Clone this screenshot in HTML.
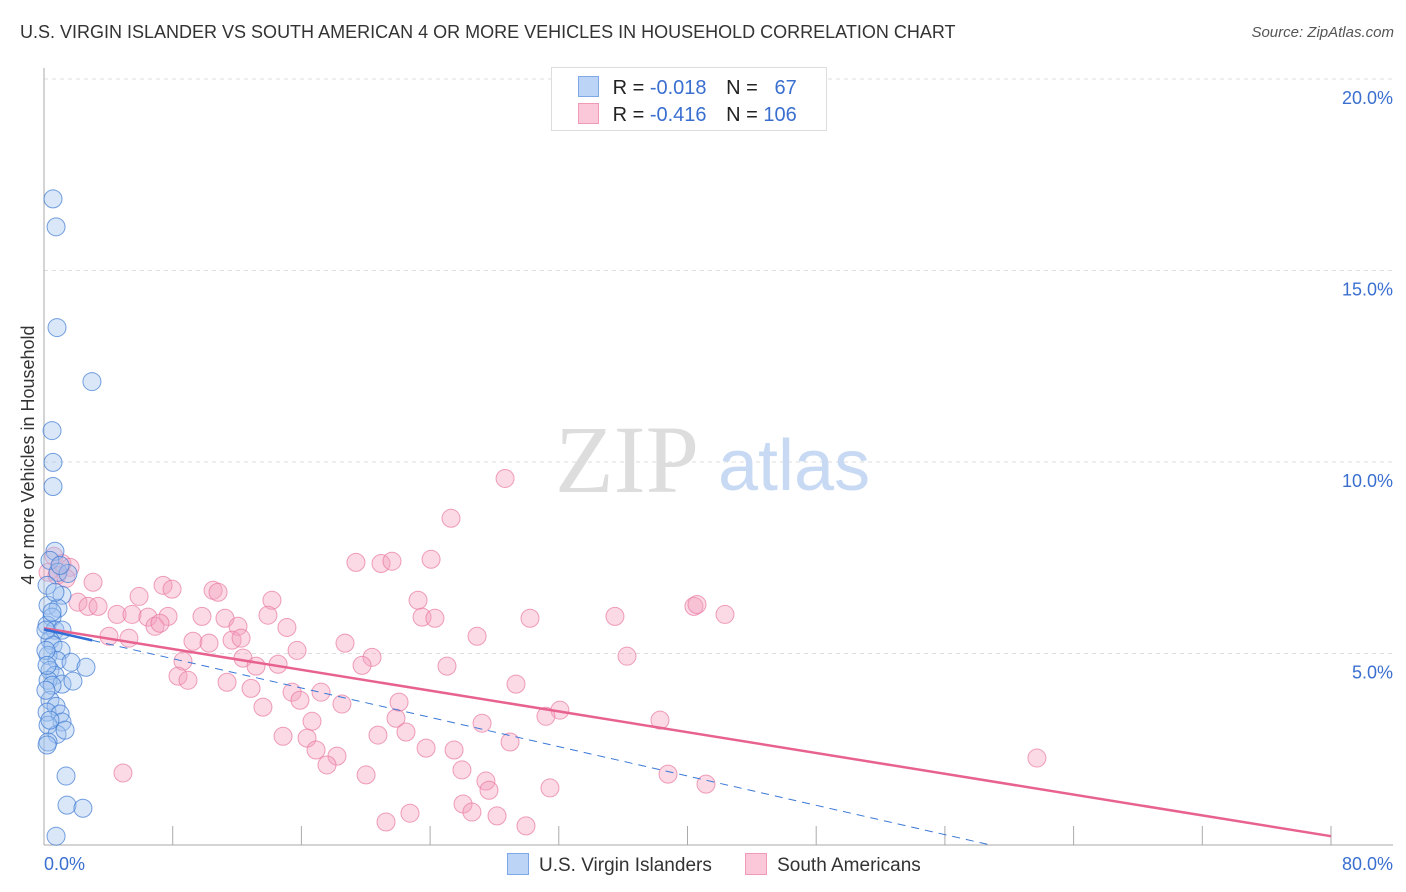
<!DOCTYPE html>
<html><head><meta charset="utf-8">
<style>
body{margin:0;background:#fff;font-family:"Liberation Sans",sans-serif;}
#wrap{position:relative;width:1406px;height:892px;overflow:hidden;}
.t{position:absolute;white-space:nowrap;}
</style></head>
<body>
<div id="wrap">
<div class="t" style="left:20px;top:22px;font-size:18px;color:#333;">U.S. VIRGIN ISLANDER VS SOUTH AMERICAN 4 OR MORE VEHICLES IN HOUSEHOLD CORRELATION CHART</div>
<div class="t" style="right:12px;top:24px;font-size:15px;color:#555;font-style:italic;">Source: ZipAtlas.com</div>
<svg id="svg" width="1406" height="892" style="position:absolute;left:0;top:0;"></svg>
</div>
<script>
const xTicks=[0,8,16,24,32,40,48,56,64,72,80];
const yTicks=[5,10,15,20];
const yTickLabels=["5.0%","10.0%","15.0%","20.0%"];
const blueX=[0.56,0.75,0.81,2.98,0.50,0.56,0.56,0.68,0.37,0.87,1.49,0.19,1.12,0.25,0.87,0.50,0.19,0.68,1.12,0.37,0.56,1.06,0.25,0.81,1.68,2.61,0.37,0.68,0.25,1.12,1.80,0.50,0.37,0.75,0.19,1.0,1.12,0.25,0.81,1.31,0.25,0.19,1.37,1.43,2.42,0.75,0.12,0.12,0.12,0.37,0.68,1.0,0.19,0.5];
const blueY=[16.87,16.14,13.51,12.10,10.82,9.99,9.36,7.67,7.43,7.12,7.09,6.78,6.52,6.26,6.18,5.95,5.74,5.61,5.61,5.35,5.22,5.08,4.95,4.82,4.77,4.64,4.56,4.43,4.30,4.20,4.28,4.17,3.78,3.62,3.47,3.42,3.21,3.13,2.89,3.0,2.69,2.61,1.80,1.04,0.96,0.23,5.61,5.08,4.04,3.26,6.6,7.3,4.69,6.08];
const pinkX=[28.66,25.30,19.39,20.95,21.63,24.06,0.62,1.12,1.62,0.25,0.81,1.37,3.05,7.40,7.96,10.51,10.82,5.91,2.11,2.74,3.36,14.17,23.25,40.40,40.59,42.33,35.49,23.50,24.30,30.21,4.54,5.47,6.46,7.71,9.82,11.25,12.06,13.92,15.10,6.90,7.21,4.04,5.28,9.26,10.26,11.69,12.25,18.71,26.92,15.73,20.39,8.64,12.37,13.18,14.55,19.77,25.05,36.24,8.33,8.95,11.38,12.87,15.42,17.22,29.34,13.61,15.91,18.52,22.07,32.07,31.20,21.88,16.66,27.23,38.29,14.86,16.35,20.76,22.50,28.97,23.75,25.49,16.91,18.21,17.59,25.98,20.02,61.72,38.79,4.91,27.47,27.66,41.15,31.45,26.05,26.60,22.75,28.16,21.26,29.96];
const pinkY=[9.57,8.53,7.38,7.35,7.41,7.46,7.54,7.35,7.25,7.12,7.04,6.96,6.86,6.78,6.68,6.65,6.60,6.49,6.34,6.23,6.23,6.39,6.39,6.23,6.28,6.02,5.97,5.95,5.92,5.92,6.02,6.02,5.95,5.97,5.97,5.92,5.71,6.0,5.68,5.71,5.79,5.45,5.40,5.32,5.27,5.35,5.40,5.27,5.45,5.08,4.90,4.80,4.88,4.67,4.72,4.69,4.67,4.93,4.41,4.30,4.25,4.09,3.99,3.99,4.20,3.60,3.78,3.68,3.73,3.52,3.36,3.31,3.23,3.18,3.26,2.84,2.79,2.87,2.95,2.69,2.53,2.48,2.48,2.32,2.09,1.96,1.83,2.27,1.85,1.88,1.67,1.43,1.59,1.49,1.07,0.86,0.83,0.76,0.60,0.50];
const pinkTrend=[5.66,0.23];
const blueTrend=[5.63,-0.0957];
const blueSolidEnd=3;

const L=44,R=1331,B=845,T=79;
const xs=v=>L+(v/80)*(R-L);
const ys=v=>B-(v/20)*(B-T);
const svg=document.getElementById('svg');
const NS='http://www.w3.org/2000/svg';
function mk(tag,attrs,parent){const e=document.createElementNS(NS,tag);for(const k in attrs)e.setAttribute(k,attrs[k]);(parent||svg).appendChild(e);return e;}

// gridlines
yTicks.forEach((v,i)=>{
 const g=mk('line',{x1:L,x2:1393,y1:ys(v),y2:ys(v),stroke:'#ddd','stroke-dasharray':'4,4'});
 
 
 const t=mk('text',{x:1393,y:ys(v)+25,'text-anchor':'end','font-size':'18',fill:'#3a6fd0','font-family':'Liberation Sans, sans-serif'});
 t.textContent=yTickLabels[i];
 
 
});
// axes
const ya=mk('line',{x1:L,x2:L,y1:68,y2:B,stroke:'#aaa'});


const xa=mk('line',{x1:L,x2:1393,y1:B,y2:B,stroke:'#aaa'});


xTicks.forEach(v=>{
 const tk=mk('line',{x1:xs(v),x2:xs(v),y1:826,y2:B,stroke:'#aaa'});
 
 
});
const xl0=mk('text',{x:44,y:870,'font-size':'18',fill:'#3a6fd0','font-family':'Liberation Sans, sans-serif'});xl0.textContent='0.0%';


const xl1=mk('text',{x:1393,y:870,'text-anchor':'end','font-size':'18',fill:'#3a6fd0','font-family':'Liberation Sans, sans-serif'});xl1.textContent='80.0%';


const yt=mk('text',{x:0,y:0,transform:'translate(34,455) rotate(-90)','text-anchor':'middle','font-size':'18',fill:'#333','font-family':'Liberation Sans, sans-serif'});yt.textContent='4 or more Vehicles in Household';


// watermark
const wm=mk('text',{x:555,y:492,'font-size':'96','font-family':'Liberation Serif, serif',fill:'#ddd'});wm.textContent='ZIP';


const wm2=mk('text',{x:718,y:490,'font-size':'72','font-family':'Liberation Sans, sans-serif',fill:'#c8daf3'});wm2.textContent='atlas';



// points
pinkX.forEach((x,i)=>{
 const c=mk('circle',{cx:xs(x),cy:ys(pinkY[i]),r:9,fill:'rgba(246,160,190,0.4)',stroke:'rgba(232,120,160,0.7)','stroke-width':1});
 
 
});
blueX.forEach((x,i)=>{
 const c=mk('circle',{cx:xs(x),cy:ys(blueY[i]),r:9,fill:'rgba(160,196,240,0.4)',stroke:'rgba(60,120,210,0.7)','stroke-width':1});
 
 
});
// trends
const pt=mk('line',{x1:xs(0),y1:ys(pinkTrend[0]),x2:xs(80),y2:ys(pinkTrend[1]),stroke:'#e8628f','stroke-width':2.5});


const bz=-blueTrend[0]/blueTrend[1];
const bd=mk('line',{x1:xs(blueSolidEnd),y1:ys(blueTrend[0]+blueTrend[1]*blueSolidEnd),x2:xs(bz),y2:ys(0),stroke:'#3a78d6','stroke-width':1,'stroke-dasharray':'8,6'});


const bs=mk('line',{x1:xs(0),y1:ys(blueTrend[0]),x2:xs(blueSolidEnd),y2:ys(blueTrend[0]+blueTrend[1]*blueSolidEnd),stroke:'#2f6fd6','stroke-width':2.5});


</script>
<div class="t" style="left:551px;top:67px;width:274px;height:62px;border:1px solid #ddd;background:#fff;font-size:20px;">
 <div style="position:absolute;left:26px;top:8px;">
  <span style="display:inline-block;width:19px;height:19px;background:#bcd4f5;border:1px solid #7fa8e8;vertical-align:-3px;"></span>
  <span style="margin-left:8px;color:#222;">R = </span><span style="color:#3a6fd0;">-0.018</span>
  <span style="margin-left:14px;color:#222;">N = </span><span style="color:#3a6fd0;">&nbsp;&nbsp;67</span>
 </div>
 <div style="position:absolute;left:26px;top:35px;">
  <span style="display:inline-block;width:19px;height:19px;background:#fac8d8;border:1px solid #f09ab8;vertical-align:-3px;"></span>
  <span style="margin-left:8px;color:#222;">R = </span><span style="color:#3a6fd0;">-0.416</span>
  <span style="margin-left:14px;color:#222;">N = </span><span style="color:#3a6fd0;">106</span>
 </div>
</div>
<div class="t" style="left:507px;top:853px;font-size:19px;color:#333;">
 <span><span style="display:inline-block;width:20px;height:20px;background:#bcd4f5;border:1px solid #7fa8e8;vertical-align:-4px;"></span><span style="margin-left:10px;">U.S. Virgin Islanders</span></span>
 <span style="margin-left:28px;"><span style="display:inline-block;width:20px;height:20px;background:#fac8d8;border:1px solid #f09ab8;vertical-align:-4px;"></span><span style="margin-left:10px;">South Americans</span></span>
</div>
</body></html>
